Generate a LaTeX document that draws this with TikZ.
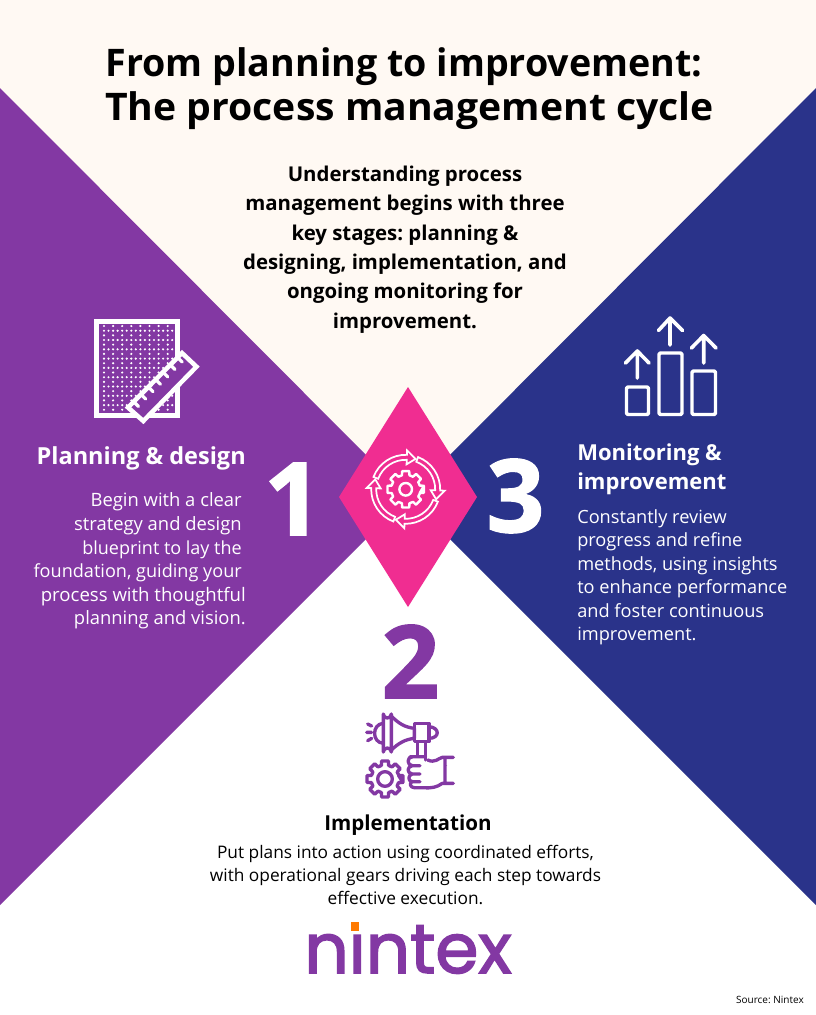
\documentclass[tikz,border=0pt]{standalone}
\usepackage{fontspec}
\setmainfont{Open Sans}
\newfontfamily\logofont[FakeBold=2.2]{Poppins}
\newfontfamily\numfont[BoldFeatures={FakeBold=1.6}]{Open Sans}
\usetikzlibrary{calc}
\frenchspacing
\definecolor{cream}{HTML}{FFF9F3}
\definecolor{pur}{HTML}{8338A3}
\definecolor{navy}{HTML}{2A338A}
\definecolor{pinkd}{HTML}{F02D91}
\definecolor{orng}{HTML}{FF7A00}
\newcommand{\fz}[1]{\fontsize{\dimexpr#1pt*3/4\relax}{\dimexpr#1pt*9/10\relax}\selectfont}
\newcommand{\gearpath}[5]{% r1 r2 half-outer half-inner n-step
  (#3:#2) \foreach \a in {0,#5,...,359}{ -- (\a-#4:#1) -- (\a-#3:#2) -- (\a+#3:#2) -- (\a+#4:#1)} -- cycle}
\tikzset{
  tline/.style={anchor=base,inner sep=0pt,text=black},
  wline/.style={anchor=base,inner sep=0pt,text=white},
  numb/.style={anchor=base,inner sep=0pt,font=\numfont\fz{101}\bfseries},
  wstroke/.style={draw=white,line width=2.4pt,line cap=round,line join=round},
  pstroke/.style={draw=pur,line width=2.5pt,line cap=round,line join=round},
}
\begin{document}
\begin{tikzpicture}[x=0.75pt,y=-0.75pt]
\useasboundingbox (0,0) rectangle (816,1015);
\fill[white] (0,0) rectangle (816,1015);
\fill[cream] (0,0) -- (816,0) -- (816,88) -- (408,497) -- (0,88) -- cycle;
\fill[pur] (0,88) -- (408,497) -- (0,905) -- cycle;
\fill[navy] (816,88) -- (408,497) -- (816,905) -- cycle;
\fill[pinkd] (408,387) -- (477,497) -- (408,607) -- (339,497) -- cycle;

% title
\node[tline,font=\fz{38}\bfseries] (t1) at (404,76) {\scalebox{0.99}[1]{From planning to improvement:}};
\node[tline,font=\fz{38}\bfseries] (t2) at (409.5,120) {\scalebox{1.03}[1]{The process management cycle}};
% intro
\foreach \n/\yy/\t in {a/181/Understanding process,b/210/management begins with three,c/240/key stages: planning \&,d/269/{designing, implementation, and},e/298/ongoing monitoring for,f/328/improvement.}
  \node[tline,font=\fz{20.4}\bfseries] (i\n) at (405,\yy) {\t};

% left
\node[wline,font=\fz{23.5}\bfseries,anchor=base east] (lh) at (246,464) {Planning \& design};
\foreach \n/\xx/\yy/\fsz/\t in {a/242/506/18.4/Begin with a clear,b/242/530/18.4/strategy and design,c/242/554/18/blueprint to lay the,d/242/577/18.1/foundation{,} guiding your,e/246/601/18.6/process with thoughtful,f/246/624/18.4/planning and vision.}
  \node[wline,font=\fz{\fsz},anchor=base east] (l\n) at (\xx,\yy) {\t};
% right
\node[wline,font=\fz{22}\bfseries,anchor=base west] (rh1) at (577,460) {Monitoring \&};
\node[wline,font=\fz{22}\bfseries,anchor=base west] (rh2) at (577,489) {improvement};
\foreach \n/\yy/\t in {a/523/Constantly review,b/546/progress and refine,c/570/methods{,} using insights,d/593/to enhance performance,e/617/and foster continuous,f/640/improvement.}
  \node[wline,font=\fz{18.2},anchor=base west] (r\n) at (577,\yy) {\t};
% bottom
\node[tline,font=\fz{20.6}\bfseries] (bh) at (408,830) {Implementation};
\foreach \n/\yy/\t in {a/858/Put plans into action using coordinated efforts{,},b/881/with operational gears driving each step towards,c/904/effective execution.}
  \node[tline,font=\fz{17.3}] (b\n) at (405.5,\yy) {\t};
\node[tline,font=\fz{10},anchor=base east] (src) at (804,1003) {Source: Nintex};

% numbers
\node[numb,text=white] (n1) at (293,535) {1};
\node[numb,text=white] (n3) at (515.5,532) {3};
\node[numb,text=pur] (n2) at (410.5,698) {2};

% logo
\node[anchor=base,inner sep=0pt,text=pur,font=\logofont\fontsize{52}{52}\selectfont] (logo) at (408,973) {nintex};
\fill[white] (343,912) rectangle (367,933);
\fill[orng] (350.7,922.3) rectangle (359.3,930.7);

% planning icon
\begin{scope}
 \clip (97,322) rectangle (176,414);
 \foreach \r in {0,...,9}{
  \foreach \c in {0,...,8}{
    \fill[white] (104+\c*9.1,326+\r*9.3) circle (1.2);
    \fill[white] (104+\c*9.1,330.7+\r*9.3) circle (1.2);
    \fill[white] (108.5+\c*9.1,330.7+\r*9.3) circle (1.2);
  }}
\end{scope}
\draw[white,line width=3.4pt] (96.5,321.5) rectangle (177.5,415.5);
\draw[white,fill=pur,line width=3.4pt,line join=miter] (128,407.5) -- (182,353) -- (196.5,366.7) -- (143.3,421) -- cycle;
\foreach \k in {0,...,6}{
  \draw[white,line width=2.4pt,line cap=round] ($(134+\k*7.3,402-\k*7.4)$) -- ++(4.5,4.5);
}

% chart icon
\begin{scope}[wstroke,line width=2.6pt,rounded corners=1pt]
\draw (626.5,387) rectangle (648.5,414.5);
\draw (659,353) rectangle (682,414.5);
\draw (692,371) rectangle (715.5,414.5);
\end{scope}
\begin{scope}[wstroke,line width=2.7pt]
\draw (637.3,378) -- (637.3,351) (625.5,363) -- (637.3,351) -- (649,363);
\draw (670,345) -- (670,318) (658.5,330.5) -- (670,318) -- (682.5,330.5);
\draw (703.7,363) -- (703.7,335.5) (691.5,348) -- (703.7,335.5) -- (716,348);
\end{scope}

% cycle icon
\begin{scope}[shift={(405.7,489.3)},yscale=-1]
 \draw[wstroke,line width=1.8pt] \gearpath{14.5}{18.5}{11}{15}{45};
 \draw[wstroke,line width=1.8pt] (0,0) circle (6.3);
 \foreach \rot in {0,-90,-180,-270}{
  \begin{scope}[rotate=\rot]
   \draw[wstroke,line width=1.3pt,line join=miter]
     (159:34.5) arc (159:88:34.5) -- (88:39) -- (72:32) -- (88:25) -- (88:29.5) arc (88:159:29.5) -- cycle;
  \end{scope}}
\end{scope}

% implementation icon (coords: zoom/3 + offset)
\begin{scope}[shift={(355,700)},x=0.25pt,y=-0.25pt,pstroke]
 \draw (85,42) arc (180:0:12) -- (109,156) arc (360:180:12) -- cycle;
 \draw (109,48) .. controls (130,70) and (150,82) .. (178,85) -- (178,115) .. controls (150,118) and (130,130) .. (109,150);
 \draw (85,70) .. controls (50,72) and (50,128) .. (85,130);
 \draw (178,70) -- (222,70) -- (222,125) -- (178,125) -- cycle;
 \draw (222,80) .. controls (255,82) and (255,115) .. (222,115);
 \draw (187,125) -- (187,168) (211,125) -- (211,180);
 \draw (38,72) -- (50,78) (35,97) -- (50,97) (38,122) -- (50,115);
 \draw (165,170) -- (211,170) (218,180) .. controls (240,190) and (250,175) .. (262,172) -- (295,172) (270,172) -- (270,250) (262,250) -- (295,250) (262,250) .. controls (245,262) and (230,265) .. (205,263) -- (178,263);
 \draw (172,170) .. controls (155,172) and (155,195) .. (172,197) -- (195,197) (172,197) .. controls (155,200) and (155,220) .. (172,222) -- (195,222) (172,222) .. controls (158,225) and (158,243) .. (172,245) -- (195,245) (172,245) .. controls (162,248) and (165,263) .. (178,263);
 \fill[pur] (275,197) circle (1.3);
 \begin{scope}[shift={(90,237)},yscale=-1,x=0.25pt,y=0.25pt]
  \draw \gearpath{42}{55}{11}{15}{45};
  \draw (0,0) circle (22);
 \end{scope}
\end{scope}
\end{tikzpicture}
\end{document}
